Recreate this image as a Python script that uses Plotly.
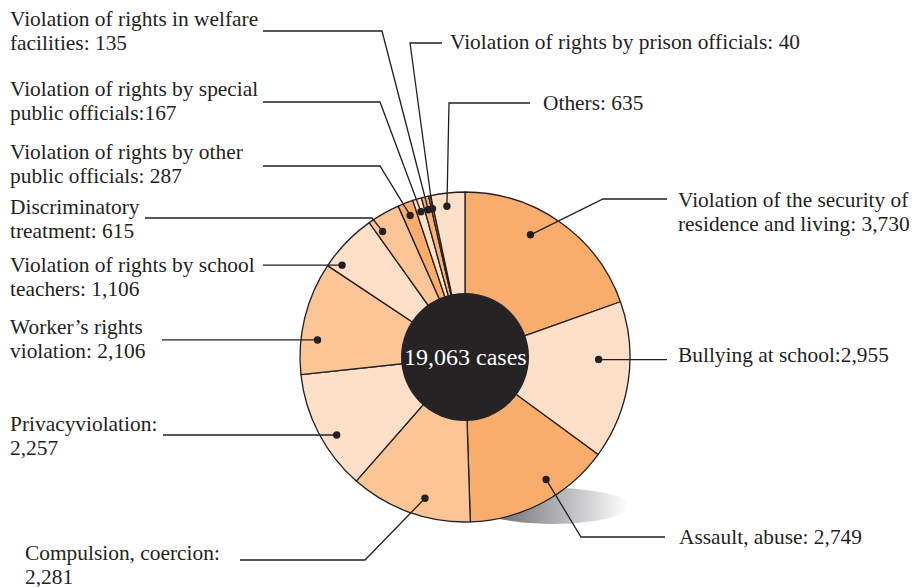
import math
import plotly.graph_objects as go

# ---------------- data ----------------
categories = [
    "Violation of the security of residence and living",
    "Bullying at school",
    "Assault, abuse",
    "Compulsion, coercion",
    "Privacy violation",
    "Worker's rights violation",
    "Violation of rights by school teachers",
    "Discriminatory treatment",
    "Violation of rights by other public officials",
    "Violation of rights by special public officials",
    "Violation of rights in welfare facilities",
    "Violation of rights by prison officials",
    "Others",
]
values = [3730, 2955, 2749, 2281, 2257, 2106, 1106, 615, 287, 167, 135, 40, 635]
label_texts = [
    "Violation of the security of<br>residence and living: 3,730",
    "Bullying at school:2,955",
    "Assault, abuse: 2,749",
    "Compulsion, coercion:<br>2,281",
    "Privacyviolation:<br>2,257",
    "Worker\u2019s rights<br>violation: 2,106",
    "Violation of rights by school<br>teachers: 1,106",
    "Discriminatory<br>treatment: 615",
    "Violation of rights by other<br>public officials: 287",
    "Violation of rights by special<br>public officials:167",
    "Violation of rights in welfare<br>facilities: 135",
    "Violation of rights by prison officials: 40",
    "Others: 635",
]
center_text = "19,063 cases"

# ---------------- style / layout ----------------
W, H = 912, 587
CX, CY, R = 465, 357, 165
HOLE_R = 64
DARK = "#F8AD6D"
MED = "#FBC595"
LIGHT = "#FEE0C8"
slice_colors = [DARK, LIGHT, DARK, MED, LIGHT, MED, LIGHT, MED, DARK, LIGHT, "#F9B274", "#F39A48", LIGHT]
INK = "#231F20"
FONT = "Liberation Serif, Times New Roman, serif"
FS = 21.4
LINE_GAP = 24

# where within each slice the marker dot sits (fraction of angle, fraction of radius)
dot_angle_frac = [0.40, 0.37, 0.39, 0.41, 0.41, 0.32, 0.15, 0.19, 0.5, 0.5, 0.5, 0.5, 0.43]
dot_radius_frac = [0.84, 0.81, 0.89, 0.89, 0.91, 0.90, 0.93, 0.91, 0.92, 0.92, 0.92, 0.92, 0.92]

# leader line: elbow point (None = straight horizontal), end x, end y (None = dot y)
leaders = [
    ((603, 199), 667, 199),
    (None, 667, None),
    ((581, 537), 665, 537),
    ((365, 560), 240, 560),
    (None, 163, None),
    (None, 162, None),
    (None, 263, None),
    ((372, 218), 145, 218),
    ((380, 166), 263, 166),
    ((380, 102), 263, 102),
    ((382, 31), 263, 31),
    ((410, 43), 442, 43),
    ((449, 103), 530, 103),
]
# label anchor (left x, middle y of first line)
label_pos = [
    (677, 200), (677, 355), (678, 537), (24, 553), (9, 424), (9, 327),
    (9, 265), (9, 207), (9, 152), (9, 89), (9, 19), (449, 42), (542, 103),
]

fig = go.Figure()

# shadow under the pie (gradient ellipse)
sx, sy, srx, sry = 553, 506, 76, 18
ex, ey = [], []
for i in range(121):
    t = 2 * math.pi * i / 120
    ex.append(sx + srx * math.cos(t))
    ey.append(sy + sry * math.sin(t))
fig.add_trace(go.Scatter(
    x=ex, y=ey, mode="lines", line=dict(width=0), fill="toself",
    fillgradient=dict(type="horizontal",
                      colorscale=[[0, "#5a5b5f"], [0.35, "#939497"], [1, "#ffffff"]]),
    hoverinfo="skip", showlegend=False,
))

# pie
fig.add_trace(go.Pie(
    labels=categories, values=values, sort=False, direction="clockwise",
    rotation=0, textinfo="none", hoverinfo="skip", showlegend=False,
    marker=dict(colors=slice_colors, line=dict(color=INK, width=1.3)),
    domain=dict(x=[(CX - R) / W, (CX + R) / W],
                y=[(H - CY - R) / H, (H - CY + R) / H]),
))

shapes = []
annotations = []
total = sum(values)
cum = 0
for i, v in enumerate(values):
    a0 = cum / total * 360
    a1 = (cum + v) / total * 360
    cum += v
    ang = math.radians(a0 + (a1 - a0) * dot_angle_frac[i])
    rr = R * dot_radius_frac[i]
    dx = CX + rr * math.sin(ang)
    dy = CY - rr * math.cos(ang)
    elbow, endx, endy = leaders[i]
    if elbow is None:
        path = f"M{dx:.2f},{dy:.2f} L{endx},{dy:.2f}"
    else:
        path = f"M{dx:.2f},{dy:.2f} L{elbow[0]},{elbow[1]} L{endx},{endy}"
    shapes.append(dict(type="path", path=path, xref="x", yref="y",
                       line=dict(color=INK, width=1.3), layer="above"))
    shapes.append(dict(type="circle", xref="x", yref="y",
                       x0=dx - 3.7, x1=dx + 3.7, y0=dy - 3.7, y1=dy + 3.7,
                       fillcolor=INK, line=dict(width=0), layer="above"))
    lx, ly = label_pos[i]
    for k, line_txt in enumerate(label_texts[i].split("<br>")):
        annotations.append(dict(x=lx, y=ly + k * LINE_GAP, xref="x", yref="y",
                                text=line_txt, showarrow=False, xanchor="left",
                                yanchor="middle", align="left", borderpad=0,
                                font=dict(family=FONT, size=FS, color=INK)))

# dark centre disc
shapes.append(dict(type="circle", xref="x", yref="y",
                   x0=CX - HOLE_R, x1=CX + HOLE_R, y0=CY - HOLE_R, y1=CY + HOLE_R,
                   fillcolor="#262324", line=dict(width=0), layer="above"))
annotations.append(dict(x=CX, y=CY, xref="x", yref="y", text=center_text,
                        showarrow=False, xanchor="center", yanchor="middle",
                        font=dict(family=FONT, size=24, color="white")))

fig.update_layout(
    width=W, height=H, margin=dict(l=0, r=0, t=0, b=0),
    paper_bgcolor="white", plot_bgcolor="white",
    xaxis=dict(range=[0, W], visible=False, fixedrange=True),
    yaxis=dict(range=[H, 0], visible=False, fixedrange=True),
    shapes=shapes, annotations=annotations, showlegend=False,
)

fig.write_html("out.html", config={"staticPlot": True},
               post_script="document.body.style.margin='0';document.body.style.overflow='hidden';")
